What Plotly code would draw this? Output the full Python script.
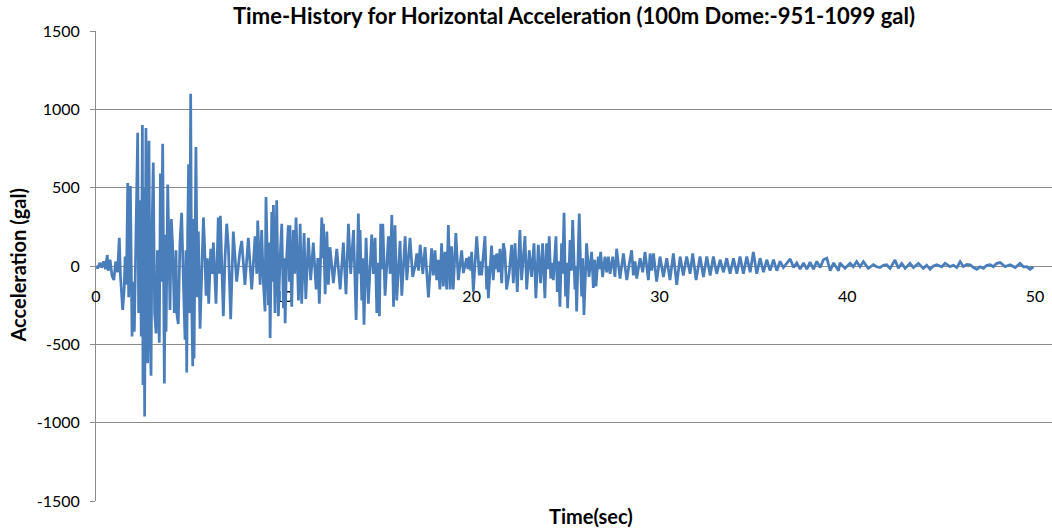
import plotly.graph_objects as go

# Time (s) and horizontal acceleration (gal)
time_sec = [
    0.0, 0.1, 0.2, 0.3, 0.4, 0.5, 0.6, 0.65, 0.75, 0.85, 0.95, 1.05, 1.15, 1.24, 1.3, 1.42, 1.5, 1.55, 1.62,
    1.69, 1.74, 1.83, 1.92, 1.99, 2.04, 2.13, 2.22, 2.27, 2.34, 2.41, 2.47, 2.50, 2.54, 2.59, 2.63, 2.66,
    2.72, 2.75, 2.79, 2.82, 2.88, 2.93, 2.98, 3.05, 3.12, 3.20, 3.27, 3.34, 3.37, 3.43, 3.48, 3.55, 3.60,
    3.64, 3.69, 3.73, 3.82, 3.89, 3.94, 4.01, 4.08, 4.17, 4.26,
    4.30, 4.38, 4.47, 4.56, 4.65, 4.74, 4.79, 4.83, 4.88, 4.93, 4.99, 5.04, 5.09, 5.15, 5.18, 5.22, 5.27,
    5.32, 5.40, 5.45, 5.54, 5.61, 5.72, 5.79, 5.86, 5.93, 6.00, 6.11, 6.18, 6.25, 6.39, 6.51, 6.57, 6.62,
    6.78, 6.87, 6.96, 7.05, 7.17, 7.31, 7.42, 7.49, 7.67, 7.76, 7.93, 8.11,
    8.29, 8.47, 8.56, 8.61, 8.74, 8.82, 8.91, 9.00, 9.05, 9.13, 9.18, 9.23, 9.27, 9.36, 9.41, 9.445, 9.53,
    9.62, 9.71, 9.80, 9.89, 9.98, 10.03, 10.07, 10.15, 10.24, 10.30, 10.33, 10.42, 10.51, 10.58, 10.65,
    10.78, 10.87, 10.95, 11.08, 11.17, 11.31, 11.43, 11.57, 11.72, 11.81, 11.89, 12.02, 12.07, 12.11,
    12.20, 12.29, 12.37, 12.46, 12.64, 12.82, 13.00, 13.17, 13.31, 13.44, 13.56, 13.71, 13.85, 13.97,
    14.02, 14.06, 14.15, 14.20, 14.27, 14.38, 14.50, 14.68, 14.77, 14.86, 14.95, 15.02, 15.09, 15.16,
    15.21, 15.27, 15.39, 15.57, 15.66, 15.75, 15.84, 15.92, 16.01, 16.19, 16.28, 16.46, 16.55, 16.72,
    16.86, 16.99, 17.08, 17.17, 17.26, 17.40, 17.52, 17.70,
    17.87, 17.96, 18.05, 18.14, 18.22, 18.31, 18.40, 18.49, 18.58, 18.67, 18.76, 18.85, 18.93, 19.02,
    19.16, 19.29, 19.47, 19.56, 19.73, 19.80, 19.87, 19.95, 20.00, 20.09, 20.27, 20.41, 20.48, 20.53,
    20.71, 20.80, 20.83, 20.89, 21.06, 21.15, 21.24, 21.29, 21.33, 21.42, 21.51, 21.60, 21.69, 21.77,
    21.86, 22.00, 22.13, 22.22, 22.31, 22.43, 22.57, 22.66, 22.84, 22.93, 23.07, 23.19, 23.32, 23.42,
    23.55, 23.67, 23.78, 23.90, 23.99, 24.08, 24.13, 24.21, 24.28, 24.35, 24.49, 24.56, 24.63, 24.70,
    24.79, 24.84, 24.92, 25.00, 25.06, 25.11, 25.24, 25.31, 25.38, 25.50, 25.54, 25.59, 25.73, 25.80,
    25.86, 25.91, 25.98, 26.12, 26.25, 26.39, 26.48, 26.55, 26.62, 26.74, 26.80, 26.87, 26.97, 27.10,
    27.19, 27.28, 27.37, 27.51, 27.63, 27.72, 27.90,
    28.08, 28.26, 28.40, 28.52, 28.61, 28.70, 28.79, 28.97, 29.11, 29.23, 29.41, 29.50, 29.59, 29.68,
    29.85, 30.03, 30.21, 30.39, 30.56, 30.74, 30.92, 31.10, 31.27, 31.45, 31.63, 31.77, 31.95, 32.16,
    32.34, 32.52, 32.70, 32.87, 33.05, 33.23, 33.41, 33.58, 33.76, 33.94, 34.12, 34.29, 34.47, 34.65,
    34.83, 35.00, 35.18, 35.36, 35.54, 35.71, 35.89, 36.07, 36.25, 36.42, 36.60, 36.78, 36.96, 37.14,
    37.31, 37.49, 37.67, 37.85, 38.02, 38.20, 38.38, 38.56, 38.73, 38.91, 39.09, 39.27, 39.53,
    39.61, 39.88, 40.15, 40.32, 40.50, 40.68, 40.86, 41.12, 41.39, 41.57, 41.74, 41.92, 42.10, 42.28,
    42.54, 42.72, 42.90, 43.08, 43.34, 43.52, 43.79, 44.05, 44.23, 44.41, 44.59, 44.76, 45.03, 45.21,
    45.47, 45.65, 45.83, 46.01, 46.18, 46.36, 46.54, 46.72, 46.90, 47.07, 47.25, 47.43, 47.61, 47.78,
    47.96, 48.14, 48.40, 48.67, 48.94, 49.20, 49.38, 49.56, 49.74, 49.83, 49.92,
]

accel_gal = [
    0, -15, 20, -10, 30, -20, 70, -30, 40, -60, -90, 30, -40, 180, -60, -280, -150, 60, -120,
    530, -200, 510, -450, -100, -420, 200, 850, -300, 420, -450, 900, -760, 500, -960, 300, 880,
    -500, -620, 400, 800, -400, -700, 200, 660, -300, -430, 100, -200, -490, 590, -100, 780, -300,
    -750, 200, -420, 520, -100, -280, 300, 130, -300, 100,
    -300, -370, 150, 340, -90, -470, 100, -680, 200, 650, -300, 1099, -200, -640, 300, -590, 100,
    760, -200, 220, -400, -150, 310, 100, -190, 50, -240, 110, -50, 150, -240, 310, -50, 320,
    -320, 50, 270, 120, -340, 220, -30, -100, 100, 160, -120, 180,
    -150, 190, -50, 290, -120, 230, -100, -290, 440, -100, -250, 150, -460, 345, -100, 390, -300,
    420, -320, 50, 270, -270, 50, -365, 50, 260, -100, 260, -260, 230, -50, 310,
    -220, 270, -240, 210, -210, 180, -90, 150, -150, 50, -240, 310, 50, 270,
    -180, 220, -120, 120, -110, 110, -150, 150, -180, 270, -50, 230, -345, 335,
    -50, 230, -220, 50, -375, 180, -240, 200, -50, 180, -300, 20, -320, 270,
    -20, 270, -190, 190, -50, 325, -260, 260, -220, 160, -190, 190, -90, 180,
    -70, 0, 80, -30, 135, -50, 120, -200,
    113, -60, 100, -90, 40, -150, 145, -130, 90, -150, 262, -150, 125, -150,
    210, -90, 100, -45, 50, -20, 60, -30, 90, -165, 190, -60, 30, -60,
    190, -150, 0, -205, 130, -90, 70, -20, 80, -40, 110, -110, 145, 90,
    -150, -45, 135, -110, 145, -165, 230, -90, 190, -150, 100, -70, 145, -205,
    135, -110, 145, -205, 145, -20, 190, -80, 20, -90, 190, -165, 30, -260,
    145, -50, 340, -195, 20, -270, 165, -30, 293, -150, 0, -290, 335, 0,
    -195, 50, -313, 145, -70, 90, -140, 40, -130, 60, -20, 90, -70, 60,
    -40, 60, -50, 60, -70, 110, -80,
    80, -90, 20, 100, -60, 30, -80, 50, -40, 90, -90, 80, -30, 80,
    -100, 60, -70, 50, -90, 80, -120, 60, -60, 60, -50, 80, -90, 60,
    -70, 60, -60, 60, -50, 40, -40, 50, -50, 50, -50, 60, -50, 60,
    -40, 90, -50, 50, -40, 40, -30, 40, -30, 30, -10, 20, 45, -10,
    20, -20, 20, -20, 25, -20, 30, -10, 40, 50, -30, 20, -30,
    20, -15, 17, -5, 28, -5, 28, -15, 8, -5, -10, 5, 8, -15,
    38, -15, 17, -15, 17, -10, 17, -15, 5, -21, 0, 8, -5, 17,
    -4, 5, -10, 28, -4, 10, 8, -10, -21, -5, -15, 5, 8, -5,
    17, 22, -4, 8, -10, 17, -5, -4, -21, -10, -15,
]

x_tick_values = [0, 10, 20, 30, 40, 50]
y_tick_values = [-1500, -1000, -500, 0, 500, 1000, 1500]

chart_title = "Time-History for Horizontal Acceleration (100m Dome:-951-1099 gal)"
x_title = "Time(sec)"
y_title = "Acceleration (gal)"

FONT = "Lato"
GRID = "#8c8c8c"

fig = go.Figure()
fig.add_trace(go.Scatter(
    x=time_sec, y=accel_gal, mode="lines",
    line=dict(color="#4a7ebb", width=2.75),
    showlegend=False, hoverinfo="skip",
))

fig.update_layout(
    width=1052, height=531,
    margin=dict(l=96, r=0, t=31, b=30),
    paper_bgcolor="white", plot_bgcolor="white",
    font=dict(family=FONT, color="#000000"),
    title=dict(text="<b>" + chart_title + "</b>", x=0.5, xref="paper", xanchor="center",
               y=1 - 16 / 531, yref="container", yanchor="middle",
               font=dict(size=22, family=FONT, color="#000000")),
    xaxis=dict(
        range=[0, 50.9], tickvals=x_tick_values, ticktext=[str(v) for v in x_tick_values],
        showgrid=False, zeroline=False, showline=True, linecolor=GRID, linewidth=1,
        anchor="free", position=0.5, ticks="", tickfont=dict(size=16, family=FONT),
        ticklabelstandoff=16, layer="below traces",
    ),
    yaxis=dict(
        range=[-1500, 1500], tickvals=y_tick_values, ticktext=[str(v) for v in y_tick_values],
        showgrid=True, gridcolor=GRID, gridwidth=1, zeroline=False,
        showline=True, linecolor=GRID, linewidth=1, layer="below traces",
        ticks="outside", ticklen=5, tickcolor=GRID, tickfont=dict(size=16, family=FONT),
        ticklabelstandoff=7,
    ),
    annotations=[
        dict(text="<b>" + x_title + "</b>", xref="paper", yref="paper",
             x=(591 - 96) / 956, y=(501 - 516) / 470, xanchor="center", yanchor="middle",
             showarrow=False, font=dict(size=20, family=FONT)),
        dict(text="<b>" + y_title + "</b>", xref="paper", yref="paper",
             x=(17.5 - 96) / 956, y=(501 - 266) / 470, xanchor="center", yanchor="middle",
             textangle=-90, showarrow=False, font=dict(size=20, family=FONT)),
    ],
)

fig.write_html("out.html")
